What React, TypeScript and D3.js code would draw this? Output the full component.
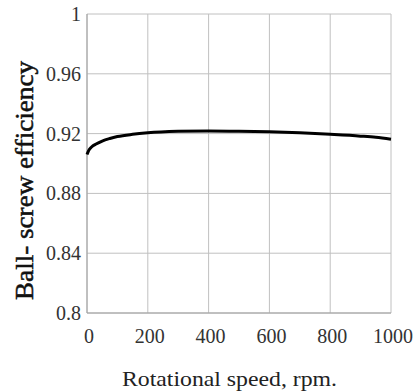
import React from "react";
import * as d3 from "d3";

const speeds = [0, 5, 15, 30, 50, 75, 100, 150, 200, 300, 400, 500, 600, 700, 800, 900, 950, 1000];
const efficiency = [0.906, 0.9085, 0.911, 0.913, 0.915, 0.9167, 0.918, 0.9195, 0.9205, 0.9215, 0.9218, 0.9216, 0.9212, 0.9205, 0.9195, 0.9183, 0.9175, 0.9162];
const xTicks = [0, 200, 400, 600, 800, 1000];
const yTicks = [0.8, 0.84, 0.88, 0.92, 0.96, 1];
const xLabel = "Rotational speed, rpm.";
const yLabel = "Ball- screw efficiency";

export default function App() {
  const W = 420, H = 392;
  const left = 87, right = 391, top = 14, bottom = 313;
  const x = d3.scaleLinear().domain([0, 1000]).range([left, right]);
  const y = d3.scaleLinear().domain([0.8, 1]).range([bottom, top]);
  const line = d3.line<number>().x((_, i) => x(speeds[i])).y((d) => y(d)).curve(d3.curveMonotoneX);
  const serif = { fontFamily: "'Liberation Serif', 'DejaVu Serif', serif" };
  return (
    <svg width={W} height={H} style={{ position: "absolute", left: 0, top: 0, background: "#fff" }}>
      <rect x={0} y={0} width={W} height={H} fill="#fff" />
      {xTicks.map((t) => (
        <line key={"gx" + t} x1={x(t)} x2={x(t)} y1={top} y2={bottom} stroke="#c0c0c0" strokeWidth={1} />
      ))}
      {yTicks.map((t) => (
        <line key={"gy" + t} x1={left} x2={right} y1={y(t)} y2={y(t)} stroke="#c0c0c0" strokeWidth={1} />
      ))}
      <line x1={left} x2={right} y1={bottom} y2={bottom} stroke="#a0a0a0" strokeWidth={1} />
      <line x1={left} x2={left} y1={top} y2={bottom} stroke="#a0a0a0" strokeWidth={1} />
      <path d={line(efficiency) || ""} fill="none" stroke="#000" strokeWidth={3} />
      {yTicks.map((t) => (
        <text key={"ty" + t} x={81} y={y(t) + 7} textAnchor="end" fontSize={20} fill="#333" style={serif}>
          {d3.format("~g")(t)}
        </text>
      ))}
      {xTicks.map((t) => (
        <text key={"tx" + t} x={x(t) + 2} y={343} textAnchor="middle" fontSize={20} fill="#333" style={serif}>
          {t}
        </text>
      ))}
      <text x={122} y={386} fontSize={21} fill="#222" textLength={215} lengthAdjust="spacingAndGlyphs" style={serif}>
        {xLabel}
      </text>
      <text transform={`translate(33, 300) rotate(-90)`} fontSize={26} fill="#111" stroke="#111" strokeWidth={0.5} textLength={239} lengthAdjust="spacingAndGlyphs" style={serif}>
        {yLabel}
      </text>
    </svg>
  );
}
